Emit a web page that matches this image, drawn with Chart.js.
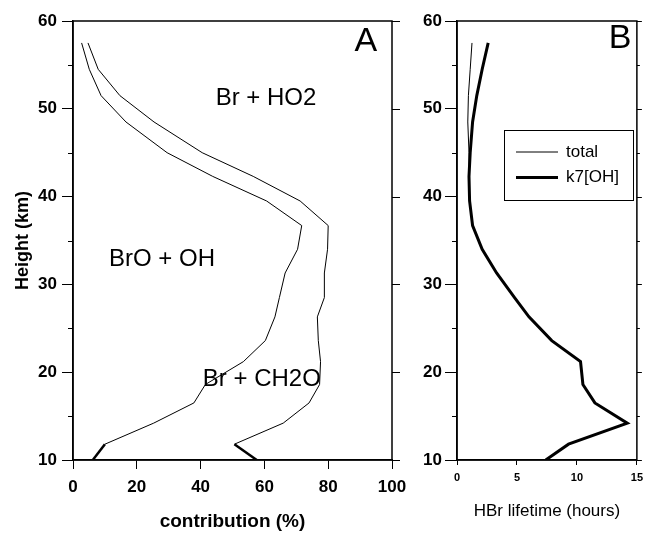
<!DOCTYPE html>
<html>
<head>
<meta charset="utf-8">
<script src="https://cdn.jsdelivr.net/npm/chart.js@4/dist/chart.umd.min.js"></script>
<style>
  body { margin: 0; background: #fff; }
  #wrap { position: relative; width: 649px; height: 533px; overflow: hidden; }
  #boxA { position: absolute; left: 0; top: 0; width: 420px; height: 533px; }
  #boxB { position: absolute; left: 400px; top: 0; width: 249px; height: 533px; }
</style>
</head>
<body>
<div id="wrap">
  <div id="boxA"><canvas id="chartA"></canvas></div>
  <div id="boxB"><canvas id="chartB"></canvas></div>
</div>
<script>
const fontFamily = "'Liberation Sans', Arial, sans-serif";
const ink = "#000";

// heights (km) shared by both panels
const heights = [10, 11.8, 14.2, 16.5, 18.6, 21.2, 23.6, 26.3, 28.5, 31.3, 34, 36.7, 39.5, 42.3, 45, 48.5, 51.5, 54.5, 57.5];

// panel A: cumulative contribution (%) boundaries
const brOhEdge = [6.2, 10.0, 25.3, 37.9, 41.5, 53.4, 60.3, 63.3, 64.7, 66.5, 70.4, 71.7, 60.7, 43.8, 29.5, 16.6, 8.8, 5.1, 2.7];
const ch2oEdge = [57.6, 50.6, 65.9, 74.0, 77.3, 77.6, 76.9, 76.6, 78.8, 78.8, 79.8, 80.0, 71.2, 56.5, 40.5, 25.4, 14.7, 7.9, 4.7];

// panel B: HBr lifetime (hours)
const k7OH = [7.4, 9.3, 14.2, 11.5, 10.5, 10.3, 7.9, 6.0, 4.8, 3.3, 2.1, 1.3, 1.05, 1.0, 1.1, 1.3, 1.65, 2.1, 2.6];
const totalLife = [7.4, 9.3, 14.2, 11.5, 10.5, 10.3, 7.9, 6.0, 4.8, 3.3, 2.1, 1.3, 1.05, 1.0, 1.0, 0.9, 0.95, 1.1, 1.25];

// tick values
const ticksA = [0, 20, 40, 60, 80, 100];
const ticksB = [0, 5, 10, 15];
const heightTicks = [10, 20, 30, 40, 50, 60];
const minorHeights = [15, 25, 35, 45, 55];

// region labels [text, x value, height]
const labelsA = [
    ['Br + HO2', 60.5, 51.2],
    ['BrO + OH', 27.9, 32.8],
    ['Br + CH2O', 59.2, 19.2]
];
const legendNames = ['total', 'k7[OH]'];

function points(xs) {
    return heights.map(function(h, i) {
        return { x: xs[i], y: h };
    });
}

// frame, right-side ticks and minor ticks
function framePlugin(cfg) {
    return {
        id: 'frame',
        afterDraw: function(chart) {
            const ctx = chart.ctx;
            const a = chart.chartArea;
            const ys = chart.scales.y;
            ctx.save();
            ctx.strokeStyle = ink;
            ctx.lineWidth = 1.5;
            ctx.strokeRect(a.left, a.top, a.right - a.left, a.bottom - a.top);
            ctx.lineWidth = 1;
            ctx.beginPath();
            minorHeights.forEach(function(h) {
                const py = Math.round(ys.getPixelForValue(h)) + 0.5;
                ctx.moveTo(a.left - cfg.leftMinor, py);
                ctx.lineTo(a.left, py);
                if (cfg.rightMinor) {
                    ctx.moveTo(a.right, py);
                    ctx.lineTo(a.right + cfg.rightMinor, py);
                }
            });
            heightTicks.forEach(function(h) {
                const py = Math.round(ys.getPixelForValue(h)) + 0.5;
                ctx.moveTo(a.right, py);
                ctx.lineTo(a.right + cfg.rightMajor, py);
            });
            ctx.stroke();
            ctx.restore();
        }
    };
}

function textPlugin(items, big) {
    return {
        id: 'texts',
        afterDatasetsDraw: function(chart) {
            const ctx = chart.ctx;
            const xs = chart.scales.x;
            const ys = chart.scales.y;
            ctx.save();
            ctx.fillStyle = ink;
            ctx.textAlign = 'center';
            ctx.textBaseline = 'middle';
            ctx.font = '24px ' + fontFamily;
            items.forEach(function(it) {
                ctx.fillText(it[0], xs.getPixelForValue(it[1]), ys.getPixelForValue(it[2]));
            });
            ctx.font = '34px ' + fontFamily;
            ctx.fillText(big[0], xs.getPixelForValue(big[1]), ys.getPixelForValue(big[2]));
            ctx.restore();
        }
    };
}

const legendPlugin = {
    id: 'boxLegend',
    afterDraw: function(chart) {
        const ctx = chart.ctx;
        const a = chart.chartArea;
        const bx = a.left + 47, by = a.top + 109;
        ctx.save();
        ctx.strokeStyle = ink;
        ctx.lineWidth = 1;
        ctx.strokeRect(bx + 0.5, by + 0.5, 129, 70);
        ctx.fillStyle = ink;
        ctx.font = '17px ' + fontFamily;
        ctx.textBaseline = 'middle';
        [1, 3].forEach(function(w, i) {
            const ly = by + 22 + i * 25.5;
            ctx.lineWidth = w;
            ctx.beginPath();
            ctx.moveTo(bx + 12, ly);
            ctx.lineTo(bx + 54, ly);
            ctx.stroke();
            ctx.fillText(legendNames[i], bx + 62, ly);
        });
        ctx.restore();
    }
};

function yScale(opts) {
    return {
        type: 'linear',
        min: 10,
        max: 60,
        afterBuildTicks: function(s) { s.ticks = heightTicks.map(function(v) { return { value: v }; }); },
        ticks: { color: ink, padding: opts.pad, font: { family: fontFamily, size: 17, weight: 'bold' } },
        grid: { drawOnChartArea: false, tickLength: opts.tick, color: ink, tickColor: ink, lineWidth: 1 },
        border: { color: ink, width: 1.5 },
        title: opts.title,
        afterFit: function(s) { s.width = opts.width; }
    };
}

Chart.defaults.font.family = fontFamily;
Chart.defaults.color = ink;

new Chart('chartA', {
    type: 'line',
    data: {
        datasets: [brOhEdge, ch2oEdge].map(function(xs) {
            return {
                data: points(xs),
                borderColor: ink,
                borderWidth: 1,
                pointRadius: 0,
                tension: 0,
                segment: { borderWidth: function(c) { return c.p0DataIndex === 0 ? 2.5 : 1; } }
            };
        })
    },
    options: {
        responsive: true,
        maintainAspectRatio: false,
        animation: false,
        layout: { padding: { left: 0, right: 28, top: 21, bottom: 0 } },
        plugins: { legend: { display: false }, tooltip: { enabled: false } },
        scales: {
            x: {
                type: 'linear',
                min: 0,
                max: 100,
                afterBuildTicks: function(s) { s.ticks = ticksA.map(function(v) { return { value: v }; }); },
                ticks: { color: ink, padding: 8, maxRotation: 0, font: { family: fontFamily, size: 17, weight: 'bold' } },
                grid: { drawOnChartArea: false, tickLength: 9, color: ink, tickColor: ink },
                border: { color: ink, width: 1.5 },
                title: { display: true, text: 'contribution (%)', color: ink, padding: { top: 0, bottom: 0 }, font: { family: fontFamily, size: 19, weight: 'bold' } },
                afterFit: function(s) { s.height = 73; }
            },
            y: yScale({
                pad: 5, tick: 11, width: 73,
                title: { display: true, text: 'Height (km)', color: ink, padding: { top: 12, bottom: 0 }, font: { family: fontFamily, size: 18, weight: 'bold' } }
            })
        }
    },
    plugins: [framePlugin({ leftMinor: 5, rightMajor: 8, rightMinor: 0 }), textPlugin(labelsA, ['A', 91.8, 57.6])]
});

new Chart('chartB', {
    type: 'line',
    data: {
        datasets: [
            { data: points(k7OH), borderColor: ink, borderWidth: 3, pointRadius: 0, tension: 0 },
            { data: points(totalLife), borderColor: ink, borderWidth: 1, pointRadius: 0, tension: 0 }
        ]
    },
    options: {
        responsive: true,
        maintainAspectRatio: false,
        animation: false,
        layout: { padding: { left: 0, right: 8, top: 21, bottom: 0 } },
        plugins: { legend: { display: false }, tooltip: { enabled: false } },
        scales: {
            x: {
                type: 'linear',
                min: 0,
                max: 15,
                afterBuildTicks: function(s) { s.ticks = ticksB.map(function(v) { return { value: v }; }); },
                ticks: { color: ink, padding: 6, maxRotation: 0, font: { family: fontFamily, size: 11, weight: 'bold' } },
                grid: { drawOnChartArea: false, tickLength: 5, color: ink, tickColor: ink },
                border: { color: ink, width: 1.5 },
                title: { display: true, text: 'HBr lifetime (hours)', color: ink, padding: { top: 0, bottom: 11 }, font: { family: fontFamily, size: 17 } },
                afterFit: function(s) { s.height = 73; }
            },
            y: yScale({ pad: 3, tick: 12, width: 57, title: { display: false } })
        }
    },
    plugins: [framePlugin({ leftMinor: 5, rightMajor: 5, rightMinor: 3 }), textPlugin([], ['B', 13.6, 58.0]), legendPlugin]
});
</script>
</body>
</html>
